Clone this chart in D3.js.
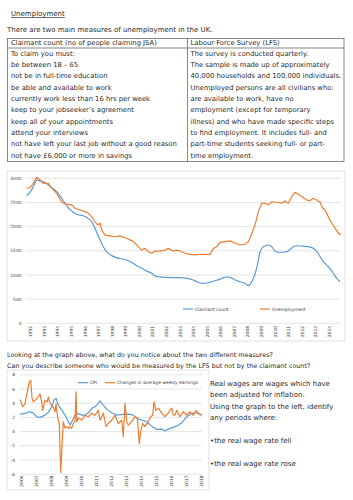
<!DOCTYPE html>
<html>
<head>
<meta charset="utf-8">
<script src="https://cdn.jsdelivr.net/npm/d3@7"></script>
<style>
    body { margin: 0; background: #fff; }
    svg { display: block; font-family: "DejaVu Sans", sans-serif; }
    .body-text { font-size: 7px; fill: #2b2b2b; }
    .body-text.cell { font-size: 6.8px; }
    .body-text.small { font-size: 6.4px; }
    .chart-box { fill: #fff; stroke: #d9d9d9; stroke-width: 0.8; }
    .grid line { stroke: #d9d9d9; stroke-width: 0.7; }
    .tick-label { font-size: 4.4px; fill: #404040; }
    .legend-label { font-size: 4.4px; fill: #404040; }
</style>
</head>
<body>
<svg id="page" width="353" height="500"></svg>
<script>
// unemployment chart (thousands), year as fraction
const claimantCount = [
    [1991.70, 2640], [1992.07, 2760], [1992.32, 2900], [1992.44, 2965], [1992.69, 2945], [1993.05, 2915],
    [1993.30, 2860], [1993.67, 2780], [1994.03, 2690], [1994.28, 2585], [1994.53, 2485], [1994.77, 2390],
    [1995.02, 2325], [1995.39, 2255], [1995.88, 2225], [1996.24, 2170], [1996.50, 2100], [1996.74, 1965],
    [1996.94, 1830], [1997.11, 1725], [1997.35, 1585], [1997.60, 1480], [1997.97, 1400], [1998.34, 1355],
    [1998.82, 1330], [1999.19, 1295], [1999.56, 1240], [1999.81, 1190], [2000.18, 1140], [2000.55, 1080],
    [2000.92, 1035], [2001.16, 980], [2001.53, 960], [2002.02, 950], [2002.51, 945], [2003.00, 945],
    [2003.50, 930], [2003.98, 895], [2004.23, 860], [2004.72, 828], [2004.97, 834], [2005.34, 860],
    [2005.71, 890], [2006.08, 930], [2006.44, 958], [2006.69, 950], [2007.06, 895], [2007.42, 860],
    [2007.79, 828], [2008.04, 780], [2008.16, 805], [2008.41, 930], [2008.65, 1140], [2008.90, 1480],
    [2009.14, 1585], [2009.51, 1620], [2009.76, 1585], [2010.00, 1495], [2010.25, 1470], [2010.61, 1470],
    [2010.98, 1495], [2011.35, 1585], [2011.72, 1605], [2012.09, 1595], [2012.45, 1585], [2012.82, 1550],
    [2013.07, 1495], [2013.32, 1380], [2013.56, 1275], [2013.93, 1170], [2014.30, 1035], [2014.55, 930],
    [2014.79, 860]
]

const lfsUnemployment = [
    [1991.70, 2795], [1991.95, 2805], [1992.19, 2895], [1992.44, 3020], [1992.69, 2965], [1992.93, 2895],
    [1993.30, 2895], [1993.55, 2795], [1993.92, 2690], [1994.28, 2505], [1994.65, 2460], [1995.02, 2450],
    [1995.26, 2380], [1995.63, 2345], [1996.00, 2310], [1996.24, 2275], [1996.50, 2205], [1996.74, 2100],
    [1996.94, 2035], [1997.11, 2070], [1997.23, 1930], [1997.47, 1825], [1997.84, 1810], [1998.21, 1790],
    [1998.58, 1810], [1998.95, 1770], [1999.19, 1745], [1999.56, 1690], [1999.81, 1620], [2000.00, 1565],
    [2000.18, 1515], [2000.42, 1550], [2000.67, 1480], [2000.92, 1450], [2001.16, 1495], [2001.53, 1495],
    [2001.90, 1515], [2002.14, 1550], [2002.51, 1495], [2002.76, 1515], [2003.00, 1495], [2003.37, 1450],
    [2003.74, 1425], [2004.10, 1415], [2004.47, 1425], [2004.97, 1425], [2005.21, 1425], [2005.46, 1550],
    [2005.71, 1585], [2005.95, 1675], [2006.32, 1690], [2006.69, 1705], [2007.06, 1655], [2007.42, 1620],
    [2007.79, 1635], [2008.04, 1690], [2008.29, 1860], [2008.53, 2035], [2008.77, 2310], [2009.02, 2485],
    [2009.27, 2485], [2009.51, 2450], [2009.76, 2515], [2010.13, 2505], [2010.50, 2485], [2010.74, 2530],
    [2010.98, 2485], [2011.23, 2620], [2011.47, 2710], [2011.72, 2670], [2011.97, 2620], [2012.34, 2550],
    [2012.58, 2535], [2012.78, 2585], [2013.07, 2550], [2013.32, 2505], [2013.52, 2380], [2013.69, 2345],
    [2013.93, 2205], [2014.18, 2070], [2014.43, 1965], [2014.67, 1860], [2014.85, 1840]
]

// wages chart (% change)
const cpi = [
    [2005.89, 2.46], [2006.22, 2.56], [2006.44, 2.79], [2006.77, 2.65], [2007.00, 2.08], [2007.22, 2.00],
    [2007.55, 2.32], [2007.77, 2.70], [2008.00, 3.50], [2008.17, 4.53], [2008.29, 4.67], [2008.44, 3.73],
    [2008.67, 3.03], [2008.89, 2.32], [2009.11, 1.38], [2009.22, 0.92], [2009.40, 1.62], [2009.55, 2.32],
    [2009.77, 2.56], [2010.00, 2.32], [2010.22, 2.32], [2010.44, 2.65], [2010.67, 3.27], [2010.89, 3.50],
    [2011.07, 3.87], [2011.22, 4.34], [2011.44, 3.73], [2011.67, 3.13], [2012.00, 2.65], [2012.33, 2.32],
    [2012.77, 2.42], [2013.11, 2.46], [2013.44, 2.32], [2013.67, 1.86], [2014.00, 1.62], [2014.33, 1.38],
    [2014.67, 0.77], [2015.00, 0.31], [2015.33, 0.35], [2015.55, 0.11], [2015.89, 0.45], [2016.33, 0.77],
    [2016.67, 1.24], [2017.00, 2.08], [2017.33, 2.56], [2017.67, 2.65], [2018.00, 2.32]
]

const weeklyEarnings = [
    [2005.89, 4.5], [2006.07, 3.5], [2006.22, 3.9], [2006.37, 5.6], [2006.51, 7.0], [2006.60, 7.2],
    [2006.69, 4.7], [2006.77, 4.2], [2006.95, 4.5], [2007.11, 4.9], [2007.22, 5.3], [2007.33, 4.2],
    [2007.40, 3.0], [2007.55, 4.4], [2007.71, 4.2], [2007.77, 4.9], [2007.89, 4.0], [2008.00, 3.7],
    [2008.15, 3.3], [2008.22, 2.8], [2008.29, 3.9], [2008.37, 2.4], [2008.51, 1.0], [2008.60, -5.75],
    [2008.69, -1.9], [2008.77, 1.4], [2008.89, 0.45], [2009.00, 0.7], [2009.11, 0.45], [2009.22, 0.7],
    [2009.33, 0.45], [2009.44, 1.15], [2009.55, 1.4], [2009.62, 5.6], [2009.67, 1.4], [2009.77, 1.9],
    [2010.00, 1.6], [2010.22, 2.3], [2010.44, 2.1], [2010.67, 2.6], [2010.89, 2.3], [2011.11, 3.0],
    [2011.22, 1.6], [2011.44, 2.6], [2011.62, 0.7], [2011.77, 1.15], [2012.00, 1.6], [2012.22, 2.3],
    [2012.44, 1.15], [2012.67, 1.6], [2012.77, -0.7], [2012.89, 4.0], [2013.00, 1.4], [2013.11, 0.9],
    [2013.33, 1.4], [2013.55, 2.1], [2013.71, 1.9], [2013.84, -1.7], [2013.93, 0.0], [2014.07, 1.15],
    [2014.22, 0.7], [2014.44, 1.4], [2014.60, 2.1], [2014.73, 2.3], [2014.82, 4.2], [2014.95, 3.0],
    [2015.11, 3.3], [2015.33, 2.6], [2015.55, 2.1], [2015.77, 2.6], [2016.00, 3.3], [2016.11, 2.3],
    [2016.22, 2.3], [2016.33, 3.0], [2016.55, 2.1], [2016.77, 2.8], [2017.00, 2.3], [2017.22, 2.8],
    [2017.44, 2.3], [2017.62, 3.0], [2017.77, 2.6], [2018.00, 2.3]
]

const unemploymentYears = d3.range(1992, 2015)
const unemploymentTicks = [0, 500, 1000, 1500, 2000, 2500, 3000]
const wageYears = d3.range(2006, 2019)
const wageTicks = [-6, -4, -2, 0, 2, 4, 6, 8]

const claimantRules = [
    'To claim you must:',
    'be between 18 \u2013 65',
    'not be in full-time education',
    'be able and available to work',
    'currently work less than 16 hrs per week',
    'keep to your jobseeker\u2019s agreement',
    'keep all of your appointments',
    'attend your interviews',
    'not have left your last job without a good reason',
    'not have \u00a36,000 or more in savings'
]

const lfsLines = [
    'The survey is conducted quarterly.',
    'The sample is made up of approximately',
    '40,000 households and 100,000 individuals.',
    'Unemployed persons are all civilians who:',
    'are available to work, have no',
    'employment (except for temporary',
    'illness) and who have made specific steps',
    'to find employment. It includes full- and',
    'part-time students seeking full- or part-',
    'time employment.'
]

const realWageLines = [
    'Real wages are wages which have',
    'been adjusted for inflation.',
    'Using the graph to the left, identify',
    'any periods where:',
    '',
    '\u2022the real wage rate fell',
    '',
    '\u2022the real wage rate rose'
]

const blue = '#5b9bd5'
const orange = '#ed7d31'

class LineChart {

    constructor(_config, _series) {
        this.config = {
            parent: _config.parent,
            box: _config.box,
            xDomain: _config.xDomain,
            xRange: _config.xRange,
            yDomain: _config.yDomain,
            yRange: _config.yRange,
            years: _config.years,
            yTicks: _config.yTicks,
            gridX: _config.gridX,
            labelX: _config.labelX,
            yearLabelY: _config.yearLabelY,
            legend: _config.legend
        }
        this.series = _series
        this.initVis()
    }

    initVis() {
        let vis = this
        let c = vis.config

        vis.chart = c.parent.append('g')

        vis.chart.append('rect')
            .attr('class', 'chart-box')
            .attr('x', c.box[0])
            .attr('y', c.box[1])
            .attr('width', c.box[2])
            .attr('height', c.box[3])

        vis.xScale = d3.scaleLinear().domain(c.xDomain).range(c.xRange)
        vis.yScale = d3.scaleLinear().domain(c.yDomain).range(c.yRange)

        vis.grid = vis.chart.append('g').attr('class', 'grid')
        vis.grid.selectAll('line')
            .data(c.yTicks)
            .join('line')
                .attr('x1', c.gridX[0])
                .attr('x2', c.gridX[1])
                .attr('y1', d => vis.yScale(d))
                .attr('y2', d => vis.yScale(d))

        vis.chart.selectAll('.y-label')
            .data(c.yTicks)
            .join('text')
                .attr('class', 'tick-label y-label')
                .attr('x', c.labelX)
                .attr('y', d => vis.yScale(d))
                .attr('dy', '0.35em')
                .attr('text-anchor', 'end')
                .text(d => d)

        vis.chart.selectAll('.x-label')
            .data(c.years)
            .join('text')
                .attr('class', 'tick-label x-label')
                .attr('text-anchor', 'end')
                .attr('dy', '0.35em')
                .attr('transform', d => `translate(${vis.xScale(d)}, ${c.yearLabelY}) rotate(-90)`)
                .text(d => d)

        vis.renderVis()
    }

    renderVis() {
        let vis = this
        let c = vis.config

        vis.chart.selectAll('.series')
            .data(vis.series)
            .join('path')
                .attr('class', 'series')
                .attr('fill', 'none')
                .attr('stroke', d => d.color)
                .attr('stroke-width', 1.2)
                .attr('stroke-linejoin', 'round')
                .attr('d', d => d3.line()
                    .x(p => vis.xScale(p[0]))
                    .y(p => vis.yScale(p[1]))
                    .curve(d.smooth ? d3.curveMonotoneX : d3.curveLinear)(d.values))

        let legend = vis.chart.selectAll('.legend-item')
            .data(vis.series)
            .join('g')
                .attr('class', 'legend-item')
                .attr('transform', (d, i) => `translate(${c.legend[i]}, ${c.legend.y})`)

        legend.append('line')
            .attr('x1', 0)
            .attr('x2', 10)
            .attr('stroke', d => d.color)
            .attr('stroke-width', 1.2)

        legend.append('text')
            .attr('class', 'legend-label')
            .attr('x', 12)
            .attr('dy', '0.35em')
            .text(d => d.name)
    }
}

const svg = d3.select('#page')

// heading and table
svg.append('text')
    .attr('class', 'body-text')
    .attr('x', 11)
    .attr('y', 16)
    .attr('text-decoration', 'underline')
    .text('Unemployment')

svg.append('text')
    .attr('class', 'body-text')
    .attr('x', 7)
    .attr('y', 32)
    .text('There are two main measures of unemployment in the UK.')

const table = svg.append('g')
table.append('rect')
    .attr('x', 7.5).attr('y', 38.5).attr('width', 336.5).attr('height', 123)
    .attr('fill', 'none').attr('stroke', '#555').attr('stroke-width', 0.7)
table.append('line')
    .attr('x1', 7.5).attr('x2', 344).attr('y1', 48).attr('y2', 48)
    .attr('stroke', '#555').attr('stroke-width', 0.7)
table.append('line')
    .attr('x1', 187.5).attr('x2', 187.5).attr('y1', 38.5).attr('y2', 161.5)
    .attr('stroke', '#555').attr('stroke-width', 0.7)

table.append('text').attr('class', 'body-text cell').attr('x', 11).attr('y', 45.3)
    .text('Claimant count (no of people claiming JSA)')
table.append('text').attr('class', 'body-text cell').attr('x', 190.5).attr('y', 45.3)
    .text('Labour Force Survey (LFS)')

table.selectAll('.rule')
    .data(claimantRules)
    .join('text')
        .attr('class', 'body-text cell rule')
        .attr('x', 11)
        .attr('y', (d, i) => 55.8 + i * 11.3)
        .text(d => d)

table.selectAll('.lfs')
    .data(lfsLines)
    .join('text')
        .attr('class', 'body-text cell lfs')
        .attr('x', 190.5)
        .attr('y', (d, i) => 55.8 + i * 11.3)
        .text(d => d)

// first chart
new LineChart({
    parent: svg,
    box: [7, 171, 338, 170],
    xDomain: [1992, 2014],
    xRange: [30.7, 329.3],
    yDomain: [0, 3000],
    yRange: [323.3, 178.3],
    years: unemploymentYears,
    yTicks: unemploymentTicks,
    gridX: [26, 340],
    labelX: 21.5,
    yearLabelY: 326,
    legend: Object.assign([183, 260], { y: 309 })
}, [
    { name: 'Claimant count', color: blue, values: claimantCount, smooth: true },
    { name: 'Unemployment', color: orange, values: lfsUnemployment, smooth: false }
])

svg.append('text')
    .attr('class', 'body-text small')
    .attr('x', 7)
    .attr('y', 356.5)
    .text('Looking at the graph above, what do you notice about the two different measures?')

svg.append('text')
    .attr('class', 'body-text small')
    .attr('x', 7)
    .attr('y', 367.5)
    .text('Can you describe someone who would be measured by the LFS but not by the claimant count?')

// second chart
new LineChart({
    parent: svg,
    box: [7, 370, 202, 120],
    xDomain: [2006, 2018],
    xRange: [21.7, 201.7],
    yDomain: [-6, 8],
    yRange: [474.2, 374.8],
    years: wageYears,
    yTicks: wageTicks,
    gridX: [20, 202],
    labelX: 15,
    yearLabelY: 475.5,
    legend: Object.assign([78, 105], { y: 382.7 })
}, [
    { name: 'CPI', color: blue, values: cpi, smooth: false },
    { name: 'Changes in average weekly earnings', color: orange, values: weeklyEarnings, smooth: false }
])

svg.selectAll('.real-wage')
    .data(realWageLines)
    .join('text')
        .attr('class', 'body-text real-wage')
        .attr('x', 210)
        .attr('y', (d, i) => 386 + i * 11.4)
        .text(d => d)
</script>
</body>
</html>
